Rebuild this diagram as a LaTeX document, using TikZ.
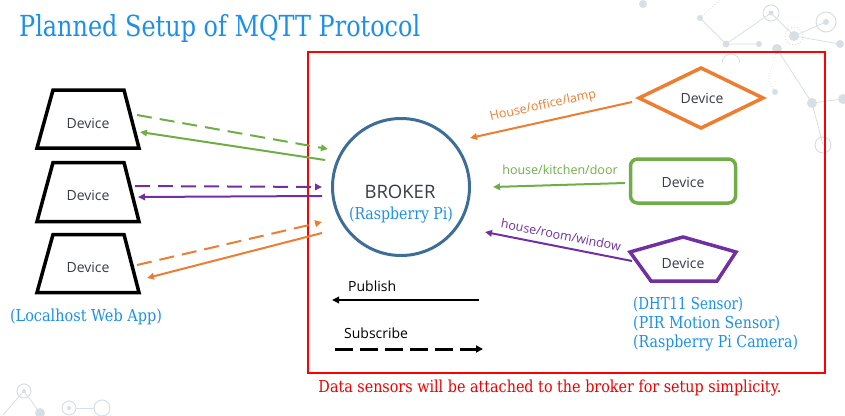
\documentclass[tikz,border=0pt]{standalone}
\usepackage{fontspec}
\usepackage{graphicx}
\usetikzlibrary{arrows.meta,shapes.geometric}
\newfontfamily\osans{Open Sans}
\newfontfamily\slab{DejaVu Serif}
\definecolor{ttlblue}{RGB}{28,144,232}
\definecolor{boxred}{RGB}{255,0,0}
\definecolor{txtred}{RGB}{238,0,0}
\definecolor{org}{RGB}{237,125,49}
\definecolor{grn}{RGB}{112,173,71}
\definecolor{prp}{RGB}{112,48,160}
\definecolor{brk}{RGB}{62,110,152}
\definecolor{devtxt}{RGB}{55,60,70}
\definecolor{deco}{RGB}{216,223,228}
\newcommand\fitw[2]{\resizebox{#1}{\height}{#2}}
\begin{document}
\begin{tikzpicture}[x=1pt,y=-1pt,
  devlabel/.style={font=\osans\fontsize{14}{16}\selectfont, text=devtxt, inner sep=0pt},
  shapeline/.style={line width=3.5pt, line join=miter},
  conn/.style={line width=2pt, -{Triangle[length=7pt,width=6.5pt]}},
  dconn/.style={conn, dash pattern=on 15pt off 8pt},
  topic/.style={font=\osans\fontsize{12.5}{14}\selectfont, inner sep=0pt},
  slabtxt/.style={text=ttlblue, inner sep=0pt},
  decoline/.style={draw=deco, line width=0.8pt},
  decodot/.style={fill=deco},
  decoring/.style={draw=deco, line width=1pt},
]
\useasboundingbox (0,0) rectangle (845,415);
% faint background network
\draw[decoline] (700,18) -- (726,44) -- (759,44);
\draw[decoline] (726,44) -- (771,13);
\draw[decoline] (771,13) -- (794,36) -- (826,22);
\draw[decoline] (777,49) -- (812,103) -- (843,99);
\draw[decoline] (812,103) -- (823,145);
\draw[decoline] (794,36) -- (840,44);
\draw[decoline, dotted] (700,18) -- (720,0);
\draw[decoline, dotted] (777,49) -- (768,80) -- (775,92);
\draw[decoline] (722,63) arc (180:360:9);
\fill[decodot] (643,4) circle (4);
\fill[decodot] (700,18) circle (3);
\draw[decoring] (771,13) circle (8); \fill[decodot] (771,13) circle (2.5);
\draw[decoring] (826,22) circle (10); \fill[decodot] (826,22) circle (3);
\fill[decodot] (794,36) circle (5); \draw[decoring, dotted] (794,36) circle (9);
\fill[decodot] (726,44) circle (3.5);
\fill[decodot] (759,44) circle (3);
\fill[decodot] (777,49) circle (5);
\fill[decodot] (840,44) circle (4);
\fill[decodot] (775,92) circle (3);
\fill[decodot] (812,103) circle (5);
\fill[decodot] (843,99) circle (5);
\draw[decoring] (823,145) circle (8);
\draw[decoline] (24,391) -- (40,413);
\draw[decoline] (24,391) -- (3,415);
\draw[decoline] (76,408) -- (94,408);
\draw[decoring] (24,391) circle (7); \fill[decodot] (24,391) circle (2);
\fill[decodot] (40,413) circle (5);
\draw[decoring] (69,408) circle (7); \fill[decodot] (69,408) circle (2);
\draw[decoring] (102,408) circle (8);

% title
\node[anchor=base west, slabtxt] (title) at (19,36)
  {\fitw{401pt}{\slab\fontsize{29}{32}\selectfont Planned Setup of MQTT Protocol}};

% red frame
\draw[boxred, line width=2pt] (308,51.5) rectangle (825,372.5);
\node[inner sep=0pt, text=txtred] (note) at (550,388)
  {\fitw{463pt}{\slab\fontsize{16.5}{19}\selectfont Data sensors will be attached to the broker for setup simplicity.}};

% left devices (trapezoids)
\draw[shapeline] (53,90) -- (124,90) -- (139,148) -- (37,148) -- cycle;
\node[devlabel] (d1) at (88,123) {Device};
\draw[shapeline] (53,162.5) -- (124,162.5) -- (139,221.5) -- (37,221.5) -- cycle;
\node[devlabel] (d2) at (88,195) {Device};
\draw[shapeline] (53,234.5) -- (124,234.5) -- (139,292.5) -- (37,292.5) -- cycle;
\node[devlabel] (d3) at (88,267) {Device};
\node[slabtxt] (webapp) at (86,317)
  {\fitw{152pt}{\slab\fontsize{16.5}{19}\selectfont (Localhost Web App)}};

% broker
\node[circle, draw=brk, line width=3pt, minimum size=137pt, inner sep=0pt] (broker) at (401,187) {};
\node[font=\osans\fontsize{18.5}{20}\selectfont, text=devtxt, inner sep=0pt] (brokertxt) at (400,192) {BROKER};
\node[slabtxt] (rpi) at (401,215)
  {\fitw{104pt}{\slab\fontsize{16.5}{19}\selectfont (Raspberry Pi)}};

% right devices
\draw[org, shapeline] (639,98) -- (701,68) -- (763,98) -- (701,128) -- cycle;
\node[devlabel] (lamp) at (702,98) {Device};
\node[draw=grn, line width=3.5pt, rounded corners=7pt, minimum width=105pt, minimum height=44pt, inner sep=0pt] (door) at (683,181) {};
\node[devlabel] (doortxt) at (683,182) {Device};
\draw[prp, shapeline] (683,237) -- (736,252) -- (717,281) -- (651,281) -- (630,252) -- cycle;
\node[devlabel] (window) at (683,263) {Device};

\node[slabtxt, anchor=west] (s1) at (633,305)
  {\fitw{110pt}{\slab\fontsize{16.5}{19}\selectfont (DHT11 Sensor)}};
\node[slabtxt, anchor=west] (s2) at (633,324)
  {\fitw{147pt}{\slab\fontsize{16.5}{19}\selectfont (PIR Motion Sensor)}};
\node[slabtxt, anchor=west] (s3) at (633,343)
  {\fitw{165pt}{\slab\fontsize{16.5}{19}\selectfont (Raspberry Pi Camera)}};

% connector end points
\coordinate (gA) at (137,115);  \coordinate (gB) at (328,149);
\coordinate (gC) at (325,160);  \coordinate (gD) at (140,132);
\coordinate (pA) at (135,186);  \coordinate (pB) at (322,187);
\coordinate (pC) at (322,196);  \coordinate (pD) at (138,197);
\coordinate (oA) at (137,265);  \coordinate (oB) at (322,222);
\coordinate (oC) at (322,233);  \coordinate (oD) at (147,278);
\coordinate (rO1) at (632,102); \coordinate (rO2) at (470,138);
\coordinate (rG1) at (625,183); \coordinate (rG2) at (493,187);
\coordinate (rP1) at (632,261); \coordinate (rP2) at (485,232);
\coordinate (pubA) at (479,300); \coordinate (pubB) at (332,300);
\coordinate (subA) at (335,349); \coordinate (subB) at (483,349);

% left connectors
\draw[dconn, grn] (gA) -- (gB);
\draw[conn, grn] (gC) -- (gD);
\draw[dconn, prp] (pA) -- (pB);
\draw[conn, prp] (pC) -- (pD);
\draw[dconn, org] (oA) -- (oB);
\draw[conn, org] (oC) -- (oD);

% right connectors
\draw[conn, org] (rO1) -- (rO2);
\draw[conn, grn] (rG1) -- (rG2);
\draw[conn, prp] (rP1) -- (rP2);
\node[topic, text=org, rotate=12.5] (t1) at (543,106) {House/office/lamp};
\node[topic, text=grn] (t2) at (560,170) {house/kitchen/door};
\node[topic, text=prp, rotate=-11] (t3) at (561,235) {house/room/window};

% legend
\draw[line width=2pt, -{Triangle[length=7pt,width=6.5pt]}] (pubA) -- (pubB);
\node[font=\osans\fontsize{14}{16}\selectfont, anchor=west, inner sep=0pt] (pub) at (348,286) {Publish};
\draw[line width=3pt, dash pattern=on 18pt off 7pt, -{Triangle[length=7pt,width=7pt]}] (subA) -- (subB);
\node[font=\osans\fontsize{14}{16}\selectfont, anchor=west, inner sep=0pt] (sub) at (344,333) {Subscribe};
\end{tikzpicture}
\end{document}
